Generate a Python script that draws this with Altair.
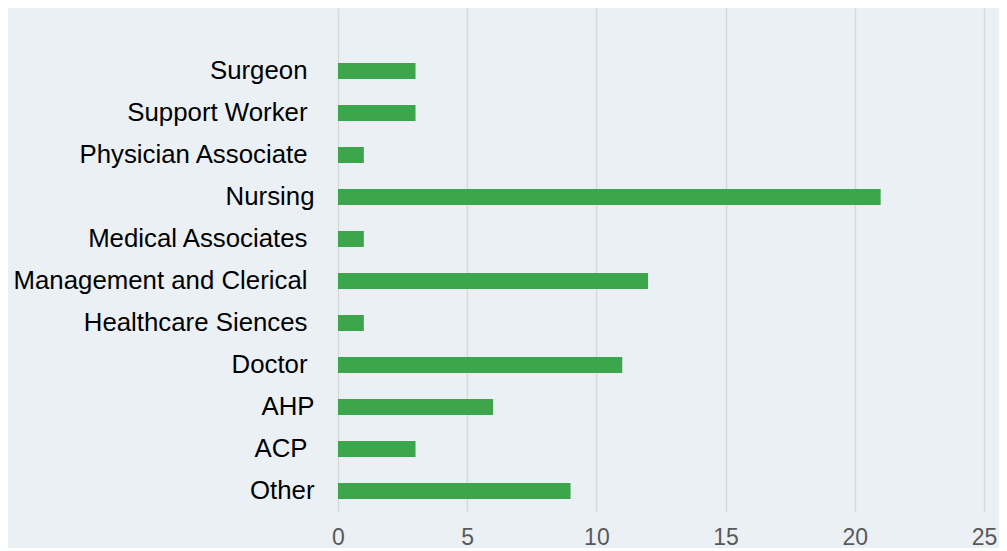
import altair as alt
import pandas as pd

categories = ["Surgeon", "Support Worker", "Physician Associate", "Nursing",
              "Medical Associates", "Management and Clerical", "Healthcare Siences",
              "Doctor", "AHP", "ACP", "Other"]
values = [3, 3, 1, 21, 1, 12, 1, 11, 6, 3, 9]
x_ticks = [0, 5, 10, 15, 20, 25]
# labels that in the original carry no trailing space
no_space = ["Nursing", "AHP", "Other"]

df = pd.DataFrame({"role": categories, "count": values})
domain = ["_blank"] + categories

bg = "#EBF0F4"
test = "indexof(" + str(no_space) + ", datum.value) >= 0"

chart = alt.Chart(df).mark_bar(size=16, color="#3DA64C").encode(
    x=alt.X("count:Q",
            scale=alt.Scale(domain=[0, 25], nice=False, zero=True),
            axis=alt.Axis(values=x_ticks, title=None, domain=False, ticks=False,
                          grid=True, gridColor="#D6D9DC", gridWidth=1.5,
                          labelFont="Liberation Sans", labelFontSize=23,
                          labelColor="#595959", labelPadding=14, labelFlush=False)),
    y=alt.Y("role:N",
            sort=domain,
            scale=alt.Scale(domain=domain, paddingInner=0, paddingOuter=0),
            axis=alt.Axis(title=None, domain=False, ticks=False, grid=False,
                          labelFont="Liberation Sans", labelFontSize=25.8,
                          labelColor="#000000",
                          labelPadding={"condition": {"test": test, "value": 24}, "value": 31},
                          labelLimit=0,
                          labelExpr="datum.value == '_blank' ? '' : datum.value")),
).properties(
    width=646,
    height=504,
    background=bg,
    padding={"left": 330, "top": 0, "right": 15, "bottom": 36},
    autosize=alt.AutoSizeParams(type="none"),
).configure_view(stroke=None, fill=bg)

chart.save("out.html", embed_options={"renderer": "svg", "actions": False})
